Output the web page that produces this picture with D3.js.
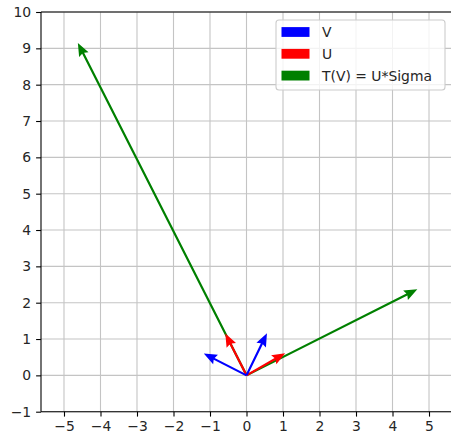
<!DOCTYPE html>
<html><head><meta charset="utf-8">
<script src="https://cdn.jsdelivr.net/npm/d3@7"></script>
<style>body{margin:0;background:#fff}svg{display:block}</style>
</head><body>
<svg id="c" width="451" height="434"></svg>
<script>
// Data
const seriesNames = ["V", "U", "T(V) = U*Sigma"];
const seriesColors = ["#0000ff", "#ff0000", "#008000"];
const V = [[-1.17, 0.6], [0.56, 1.16]];
const U = [[-0.58, 1.15], [1.06, 0.61]];
const T = [[-4.62, 9.15], [4.68, 2.37]];
const xTicks = [-5, -4, -3, -2, -1, 0, 1, 2, 3, 4, 5];
const yTicks = [-1, 0, 1, 2, 3, 4, 5, 6, 7, 8, 9, 10];

(function () {
const svg = d3.select("#c");
const pL = 41, pR = 452, pT = 12, pB = 411.7;
const x = d3.scaleLinear().domain([-5.63, 5.63]).range([pL, pR]);
const y = d3.scaleLinear().domain([-1, 10]).range([pB, pT]);
const font = "DejaVu Sans, sans-serif";
const fs = 13.9;

// grid
const g = svg.append("g");
g.selectAll(".gx").data(xTicks).enter().append("line")
  .attr("x1", d => x(d)).attr("x2", d => x(d)).attr("y1", pT).attr("y2", pB)
  .attr("stroke", "#c4c4c4").attr("stroke-width", 1.1);
g.selectAll(".gy").data(yTicks).enter().append("line")
  .attr("x1", pL).attr("x2", pR).attr("y1", d => y(d)).attr("y2", d => y(d))
  .attr("stroke", "#c4c4c4").attr("stroke-width", 1.1);

// arrows (matplotlib quiver style)
const w = 2.2;
function arrowPath(v) {
  const x0 = x(0), y0 = y(0), x1 = x(v[0]), y1 = y(v[1]);
  const L = Math.hypot(x1 - x0, y1 - y0) / w;
  const ang = Math.atan2(y1 - y0, x1 - x0);
  const pts = [[0, 0.5], [L - 5.3, 0.5], [L - 6, 2.4], [L, 0], [L - 6, -2.4], [L - 5.3, -0.5], [0, -0.5]];
  const c = Math.cos(ang), s = Math.sin(ang);
  return "M" + pts.map(p => {
    const px = p[0] * w, py = p[1] * w;
    return [x0 + px * c - py * s, y0 + px * s + py * c].join(",");
  }).join("L") + "Z";
}
const groups = [[T, seriesColors[2]], [U, seriesColors[1]], [V, seriesColors[0]]];
groups.forEach(([data, col]) => {
  svg.append("g").selectAll("path").data(data).enter().append("path")
    .attr("d", arrowPath).attr("fill", col);
});

// axes
const fmt = d => d < 0 ? "\u2212" + Math.abs(d) : d;
const xAxis = d3.axisBottom(x).tickValues(xTicks).tickSize(4.9).tickPadding(4.9).tickFormat(fmt);
const yAxis = d3.axisLeft(y).tickValues(yTicks).tickSize(4.9).tickPadding(4.9).tickFormat(fmt);
const ax = svg.append("g").attr("transform", `translate(0,${pB})`).call(xAxis);
const ay = svg.append("g").attr("transform", `translate(${pL},0)`).call(yAxis);
[ax, ay].forEach(a => {
  a.select(".domain").remove();
  a.selectAll("line").attr("stroke", "#000").attr("stroke-width", 1.1);
  a.selectAll("text").attr("font-family", font).attr("font-size", fs).attr("fill", "#262626");
});
// spines
svg.append("line").attr("x1", pL).attr("x2", pL).attr("y1", pT).attr("y2", pB).attr("stroke", "#000").attr("stroke-width", 1.1);
svg.append("line").attr("x1", pL).attr("x2", pR).attr("y1", pB).attr("y2", pB).attr("stroke", "#000").attr("stroke-width", 1.1);
svg.append("line").attr("x1", pL).attr("x2", pR).attr("y1", pT).attr("y2", pT).attr("stroke", "#000").attr("stroke-width", 1.1);

// legend
const lg = svg.append("g");
lg.append("rect").attr("x", 276).attr("y", 20).attr("width", 169).attr("height", 70).attr("rx", 3)
  .attr("fill", "#fff").attr("fill-opacity", 0.8).attr("stroke", "#cccccc").attr("stroke-width", 1.1);
seriesNames.forEach((n, i) => {
  const cy = 32 + i * 21.8;
  lg.append("rect").attr("x", 281.5).attr("y", cy - 4.9).attr("width", 28).attr("height", 9.8).attr("fill", seriesColors[i]);
  lg.append("text").attr("x", 322).attr("y", cy + 5).attr("font-family", font).attr("font-size", fs).attr("fill", "#262626").text(n);
});
})();
</script>
</body></html>
